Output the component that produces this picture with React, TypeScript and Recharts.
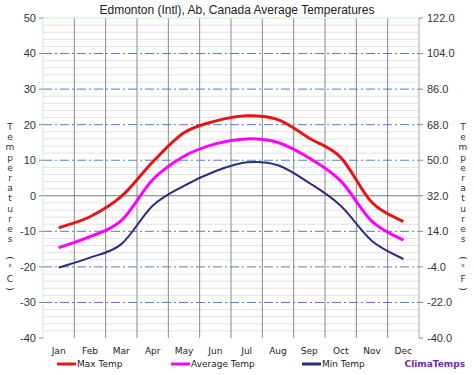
import { Line, LineChart, ReferenceLine, XAxis, YAxis } from "recharts";

const months = ["Jan", "Feb", "Mar", "Apr", "May", "Jun", "Jul", "Aug", "Sep", "Oct", "Nov", "Dec"];
const maxTemp = [-9.0, -5.9, -0.2, 9.5, 17.7, 21.0, 22.5, 21.4, 16.2, 10.8, -1.9, -7.3];
const avgTemp = [-14.6, -11.5, -7.0, 4.5, 11.1, 14.6, 16.0, 15.0, 10.6, 4.2, -7.2, -12.5];
const minTemp = [-20.2, -17.4, -13.6, -2.8, 2.8, 6.9, 9.4, 8.6, 3.6, -2.8, -12.7, -17.8];

const celsiusTicks = [-40, -30, -20, -10, 0, 10, 20, 30, 40, 50];
const fahrenheitTicks = [-40, -22, -4, 14, 32, 50, 68, 86, 104, 122];
const dashedLevels = [-30, -20, -10, 10, 20, 30, 40];
const minorLevels = [
  -38, -36, -34, -32, -28, -26, -24, -22, -18, -16, -14, -12, -8, -6, -4, -2,
  2, 4, 6, 8, 12, 14, 16, 18, 22, 24, 26, 28, 32, 34, 36, 38, 42, 44, 46, 48,
];
const monthCenters = [0.5, 1.5, 2.5, 3.5, 4.5, 5.5, 6.5, 7.5, 8.5, 9.5, 10.5, 11.5];
const monthEdges = [0, 1, 2, 3, 4, 5, 6, 7, 8, 9, 10, 11, 12];

const data = months.map((m, i) => ({
  x: monthCenters[i],
  month: m,
  max: maxTemp[i],
  avg: avgTemp[i],
  min: minTemp[i],
}));

// Catmull-Rom style smoothing (like a spreadsheet "smoothed line"),
// written as a d3 curve factory so Recharts can use it as the line type.
function smoothCurve(context: any) {
  let pts: [number, number][] = [];
  return {
    areaStart() {},
    areaEnd() {},
    lineStart() {
      pts = [];
    },
    lineEnd() {
      const n = pts.length;
      if (n === 0) return;
      context.moveTo(pts[0][0], pts[0][1]);
      for (let i = 0; i < n - 1; i++) {
        const p0 = pts[i === 0 ? 0 : i - 1];
        const p1 = pts[i];
        const p2 = pts[i + 1];
        const p3 = pts[i + 2 < n ? i + 2 : n - 1];
        context.bezierCurveTo(
          p1[0] + (p2[0] - p0[0]) / 6,
          p1[1] + (p2[1] - p0[1]) / 6,
          p2[0] - (p3[0] - p1[0]) / 6,
          p2[1] - (p3[1] - p1[1]) / 6,
          p2[0],
          p2[1],
        );
      }
    },
    point(x: number, y: number) {
      pts.push([+x, +y]);
    },
  };
}

const LABEL_C = ["T", "e", "m", "p", "e", "r", "a", "t", "u", "r", "e", "s"];
const LABEL_Y = [127, 137, 147, 158, 168, 178, 188, 198, 209, 219, 229, 239];

// stacked upright letters, the way the original axis titles are drawn
function VerticalTitle({ x, unit }: { x: number; unit: string }) {
  const style = { fontFamily: "DejaVu Sans", fontSize: 9, fill: "#333" };
  return (
    <g>
      {LABEL_C.map((ch, i) => (
        <text key={i} x={x} y={LABEL_Y[i]} textAnchor="middle" dominantBaseline="central" style={style}>
          {ch}
        </text>
      ))}
      <text x={x} y={258} textAnchor="middle" dominantBaseline="central" style={style} transform={`rotate(90 ${x} 258)`}>
        (
      </text>
      <text x={x} y={268} textAnchor="middle" dominantBaseline="central" style={{ ...style, fontSize: 8 }}>
        °
      </text>
      <text x={x} y={279} textAnchor="middle" dominantBaseline="central" style={style}>
        {unit}
      </text>
      <text x={x} y={289} textAnchor="middle" dominantBaseline="central" style={style} transform={`rotate(90 ${x} 289)`}>
        )
      </text>
    </g>
  );
}

const legendItems = [
  { name: "Max Temp", color: "#e81515", x: 57 },
  { name: "Average Temp", color: "#ff00ff", x: 171 },
  { name: "Min Temp", color: "#2b2b82", x: 302 },
];

export default function App() {
  return (
    <div style={{ position: "absolute", left: 0, top: 0, width: 474, height: 375, background: "#fff" }}>
      <LineChart width={474} height={375} data={data} margin={{ top: 18, right: 0, left: 0, bottom: 17 }}>
        <XAxis
          xAxisId="edge"
          type="number"
          dataKey="x"
          domain={[0, 12]}
          ticks={monthEdges}
          tick={false}
          tickSize={4}
          height={0}
          axisLine={{ stroke: "#aaa" }}
          tickLine={{ stroke: "#888" }}
        />
        <XAxis
          type="number"
          dataKey="x"
          domain={[0, 12]}
          ticks={monthCenters}
          tickFormatter={(v: number) => months[Math.floor(v)]}
          axisLine={false}
          tickLine={false}
          tickSize={6}
          tickMargin={4}
          height={20}
          tick={{ fontFamily: "DejaVu Sans", fontSize: 9, fill: "#222" }}
        />
        <YAxis
          yAxisId="c"
          domain={[-40, 50]}
          ticks={celsiusTicks}
          width={43}
          axisLine={{ stroke: "#c8eec8" }}
          tickLine={{ stroke: "#888" }}
          tickSize={4}
          tickMargin={3}
          tick={{ fontFamily: "Liberation Sans", fontSize: 11, fill: "#333" }}
        />
        <YAxis
          yAxisId="f"
          orientation="right"
          domain={[-40, 122]}
          ticks={fahrenheitTicks}
          allowDataOverflow
          tickFormatter={(v: number) => v.toFixed(1)}
          width={55}
          axisLine={{ stroke: "#aaa" }}
          tickLine={{ stroke: "#888" }}
          tickSize={4}
          tickMargin={4}
          tick={{ fontFamily: "Liberation Sans", fontSize: 11, fill: "#333", textAnchor: "start" }}
        />

        {minorLevels.map((v) => (
          <ReferenceLine key={`m${v}`} yAxisId="c" y={v} stroke="#e2e2e2" strokeWidth={1} />
        ))}
        {monthEdges.slice(1, 12).map((v) => (
          <ReferenceLine key={`e${v}`} yAxisId="c" x={v} stroke="#8a8a8a" strokeWidth={1} />
        ))}
        {dashedLevels.map((v) => (
          <ReferenceLine key={`d${v}`} yAxisId="c" y={v} stroke="#4f7fc4" strokeWidth={1} strokeDasharray="9 3 2 3" />
        ))}
        <ReferenceLine yAxisId="c" y={0} stroke="#777" strokeWidth={1} />
        <ReferenceLine yAxisId="c" y={50} stroke="#c8eec8" strokeWidth={1} />

        <Line yAxisId="c" type={smoothCurve as any} dataKey="min" stroke="#2b2b82" strokeWidth={2} dot={false} isAnimationActive={false} />
        <Line yAxisId="c" type={smoothCurve as any} dataKey="avg" stroke="#ff00ff" strokeWidth={3} dot={false} isAnimationActive={false} />
        <Line yAxisId="c" type={smoothCurve as any} dataKey="max" stroke="#e81515" strokeWidth={3} dot={false} isAnimationActive={false} />
      </LineChart>

      <svg width={474} height={375} style={{ position: "absolute", left: 0, top: 0, pointerEvents: "none" }}>
        <text x={237} y={14} textAnchor="middle" style={{ fontFamily: "Liberation Sans", fontSize: 12, fill: "#222" }}>
          Edmonton (Intl), Ab, Canada Average Temperatures
        </text>
        <VerticalTitle x={10} unit="C" />
        <VerticalTitle x={463} unit="F" />
        {legendItems.map((it) => (
          <g key={it.name}>
            <line x1={it.x} x2={it.x + 19} y1={364} y2={364} stroke={it.color} strokeWidth={3} />
            <text x={it.x + 20} y={364} dominantBaseline="central" style={{ fontFamily: "DejaVu Sans", fontSize: 9, fill: "#222" }}>
              {it.name}
            </text>
          </g>
        ))}
        <text x={465} y={364} textAnchor="end" dominantBaseline="central" style={{ fontFamily: "DejaVu Sans", fontWeight: "bold", fontSize: 9, fill: "#7030a0" }}>
          ClimaTemps
        </text>
      </svg>
    </div>
  );
}
